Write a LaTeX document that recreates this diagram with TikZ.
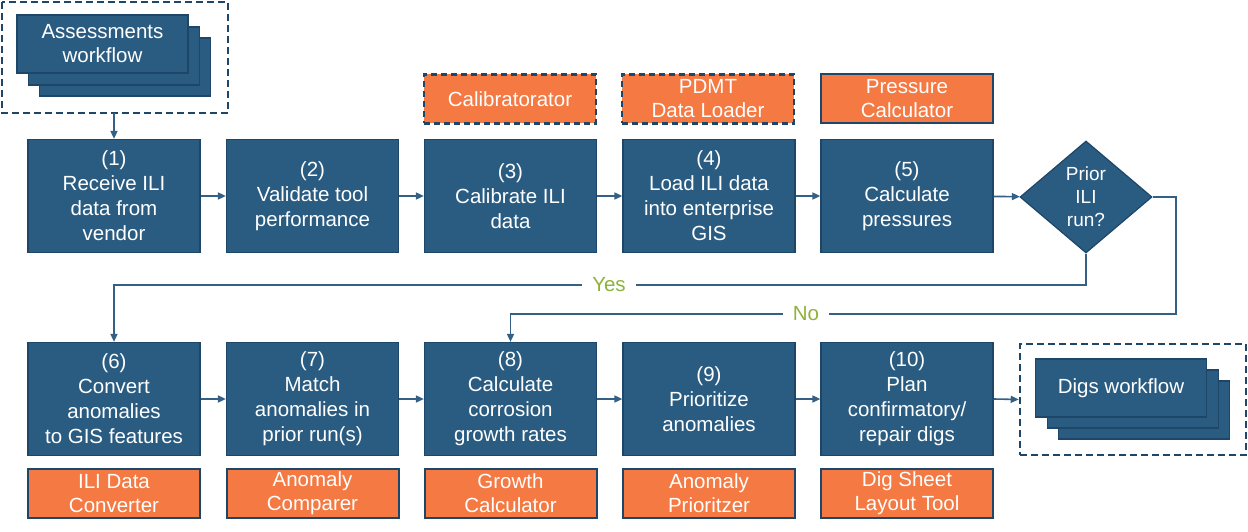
\documentclass[tikz,border=0pt]{standalone}
\usepackage{fontspec}
\setmainfont{Liberation Sans}
\usetikzlibrary{arrows.meta,shapes.geometric}
\definecolor{boxblue}{RGB}{42,92,130}
\definecolor{boxedge}{RGB}{30,70,104}
\definecolor{lineblue}{RGB}{52,96,134}
\definecolor{toolorange}{RGB}{244,121,66}
\definecolor{yesgreen}{RGB}{141,179,58}
\tikzset{
  proc/.style={rectangle, fill=boxblue, draw=boxedge, line width=1.2pt, minimum width=172pt, minimum height=113pt, inner sep=0pt, text=white, align=center, font=\fontsize{20.5}{25}\selectfont},
  tool/.style={rectangle, fill=toolorange, draw=boxedge, line width=2pt, minimum width=172pt, minimum height=49pt, inner sep=0pt, text=white, align=center, font=\fontsize{20.5}{24}\selectfont},
  tooldash/.style={tool, dash pattern=on 6pt off 4pt, line width=2.4pt},
  card/.style={rectangle, fill=boxblue, draw=boxedge, line width=1.5pt, minimum width=171pt, minimum height=58pt, inner sep=0pt, text=white, align=center, font=\fontsize{20.5}{24}\selectfont},
  frame/.style={rectangle, draw=boxedge, line width=2.6pt, dash pattern=on 7pt off 4pt, fill=white},
  decision/.style={diamond, fill=boxblue, draw=boxedge, line width=1.2pt, minimum width=132pt, minimum height=112pt, aspect=1.18, inner sep=0pt, text=white, align=center, font=\fontsize{19}{23}\selectfont},
  flow/.style={draw=lineblue, line width=1.6pt, -{Triangle[length=8pt,width=7pt]}},
  lab/.style={fill=white, text=yesgreen, inner xsep=10pt, inner ysep=2pt, font=\fontsize{20.5}{22}\selectfont}
}
\begin{document}
\begin{tikzpicture}[x=1pt,y=-1pt]
\useasboundingbox (0,0) rectangle (1248,532);

% Assessments workflow frame
\draw[frame] (2,2) rectangle (228,113);
\coordinate (asb) at (114,113);
\node[card] (a3) at (125,67) {};
\node[card] (a2) at (114,56) {};
\node[card] (a1) at (102.5,44) {Assessments\\workflow};

% Top row
\node[proc] (p1) at (114,196) {(1)\\Receive ILI\\data from\\vendor};
\node[proc] (p2) at (312.5,196) {(2)\\Validate tool\\performance};
\node[proc] (p3) at (510.5,196) {(3)\\Calibrate ILI\\data};
\node[proc] (p4) at (709,196) {(4)\\Load ILI data\\into enterprise\\GIS};
\node[proc] (p5) at (907,196) {(5)\\Calculate\\pressures};
\node[decision] (d) at (1086,197) {Prior\\ILI\\run?};

\node[tooldash] (t3) at (510,99) {Calibratorator};
\node[tooldash] (t4) at (708,99) {PDMT\\Data Loader};
\node[tool] (t5) at (907,99) {Pressure\\Calculator};

% Bottom row
\node[proc] (p6) at (114,399) {(6)\\Convert\\anomalies\\to GIS features};
\node[proc] (p7) at (312.5,399) {(7)\\Match\\anomalies in\\prior run(s)};
\node[proc] (p8) at (510.5,399) {(8)\\Calculate\\corrosion\\growth rates};
\node[proc] (p9) at (709,399) {(9)\\Prioritize\\anomalies};
\node[proc] (p10) at (907,399) {(10)\\Plan\\confirmatory/\\repair digs};

\node[tool] (t6) at (114,493.5) {ILI Data\\Converter};
\node[tool] (t7) at (312.5,493.5) {Anomaly\\Comparer};
\node[tool] (t8) at (510.5,493.5) {Growth\\Calculator};
\node[tool] (t9) at (709,493.5) {Anomaly\\Prioritzer};
\node[tool] (t10) at (907,493.5) {Dig Sheet\\Layout Tool};

% Digs workflow frame
\node[frame, minimum width=226pt, minimum height=111pt, inner sep=0pt] (df) at (1133,399.5) {};
\node[card] (g3) at (1144,410) {};
\node[card] (g2) at (1133,399) {};
\node[card] (g1) at (1121,388) {Digs workflow};

% Connectors
\draw[flow] (asb) -- (p1.north);
\draw[flow] (p1) -- (p2);
\draw[flow] (p2) -- (p3);
\draw[flow] (p3) -- (p4);
\draw[flow] (p4) -- (p5);
\draw[flow] (p5) -- (d);
\draw[flow] (p6) -- (p7);
\draw[flow] (p7) -- (p8);
\draw[flow] (p8) -- (p9);
\draw[flow] (p9) -- (p10);
\draw[flow] (p10.east) -- (df.west);

\draw[flow] (d.south) -- (1086,285) -- (114,285) -- (p6.north);
\draw[flow] (d.east) -- (1176,197) -- (1176,314) -- (510.5,314) -- (p8.north);

\node[lab] (yes) at (609,285) {Yes};
\node[lab] (no) at (806,314) {No};
\end{tikzpicture}
\end{document}
